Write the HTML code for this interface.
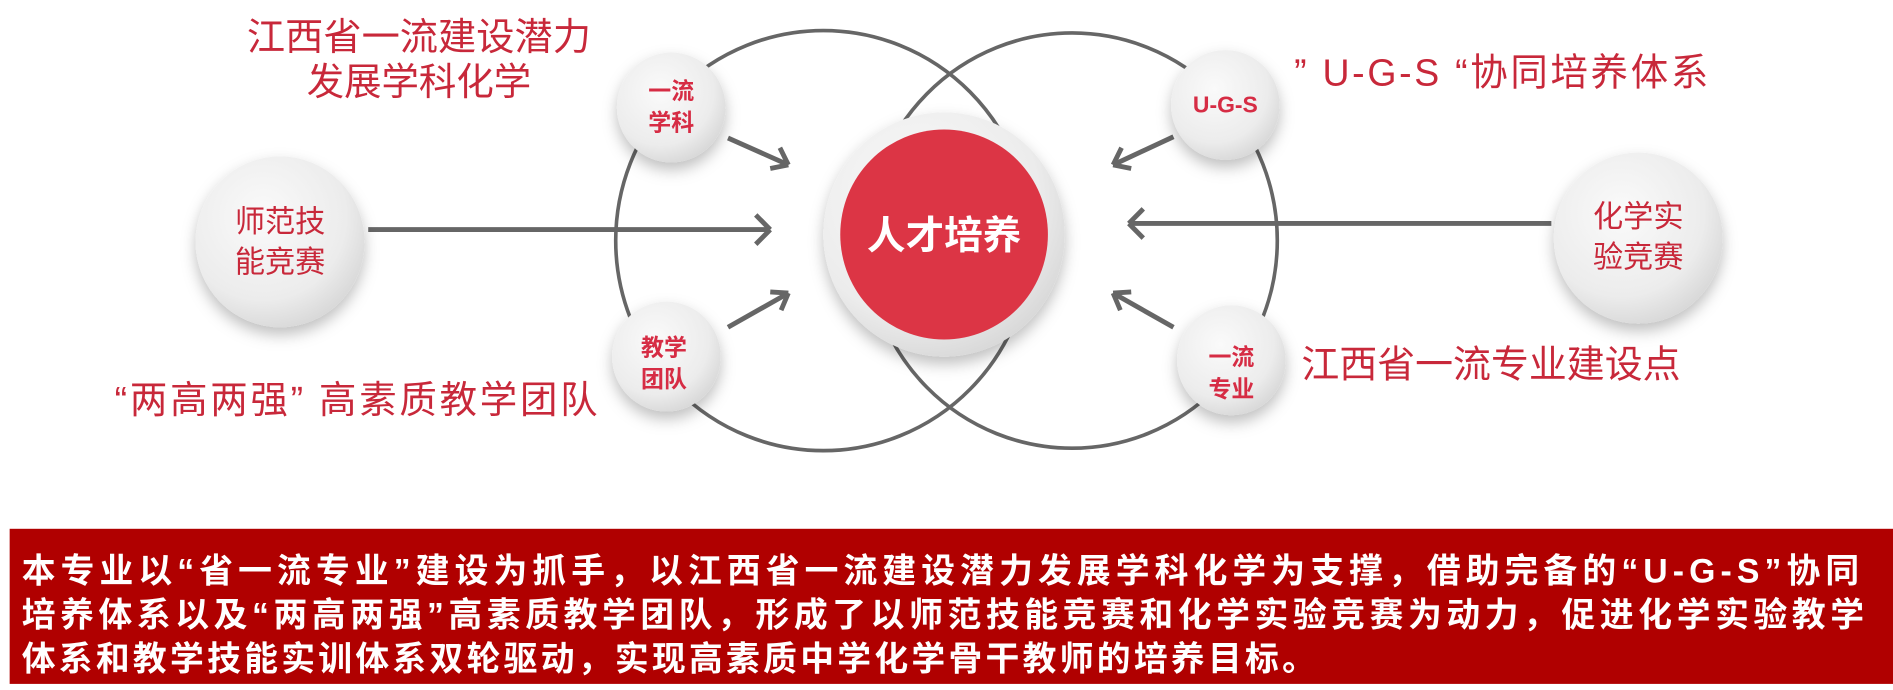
<!DOCTYPE html>
<html><head><meta charset="utf-8"><style>
html,body{margin:0;padding:0;background:#fff;width:1893px;height:690px;overflow:hidden}
svg{display:block}
text{font-family:"Liberation Sans","Noto Sans CJK SC",sans-serif}
</style></head><body>
<svg width="1893" height="690" viewBox="0 0 1568 565" preserveAspectRatio="none">
<defs>
<radialGradient id="g" cx="40%" cy="35%" r="70%"><stop offset="0" stop-color="#fafafa"/><stop offset="0.7" stop-color="#ececec"/><stop offset="1" stop-color="#d6d6d6"/></radialGradient>
<filter id="s" x="-30%" y="-30%" width="160%" height="160%"><feDropShadow dx="0" dy="6" stdDeviation="6" flood-color="#000" flood-opacity="0.25"/></filter>
</defs>
<g fill="none" stroke="#666" stroke-width="3">
<circle cx="682" cy="197" r="172"/>
<circle cx="888" cy="197" r="170"/>
</g>
<g stroke="#666" stroke-width="4" fill="none">
<path d="M305 188 L638 188"/><path d="M638 188 l-12 -12 M638 188 l-12 12"/>
<path d="M1285 183 L935 183"/><path d="M935 183 l12 -12 M935 183 l12 12"/>
<path d="M603 113 L653 135"/><path d="M653 135 l-7 -14 M653 135 l-15 3"/>
<path d="M603 268 L653 240"/><path d="M653 240 l-15 -1 M653 240 l-6 14"/>
<path d="M972 112 L922 135"/><path d="M922 135 l7 -14 M922 135 l15 3"/>
<path d="M972 268 L922 240"/><path d="M922 240 l15 -1 M922 240 l6 14"/>
</g>
<circle cx="782" cy="192" r="100" fill="url(#g)" filter="url(#s)"/>
<circle cx="782" cy="192" r="86" fill="#dc3545"/>
<text x="782" y="204" text-anchor="middle" font-size="32" font-weight="bold" fill="#fff">人才培养</text>
<g filter="url(#s)" fill="url(#g)">
<circle cx="232" cy="198" r="70"/><circle cx="1357" cy="195" r="70"/>
<circle cx="556" cy="88" r="45"/><circle cx="552" cy="292" r="45"/>
<circle cx="1015" cy="86" r="45"/><circle cx="1020" cy="295" r="45"/>
</g>
<g fill="#c8283a" font-size="25" text-anchor="middle">
<text x="232" y="190">师范技</text><text x="232" y="223">能竞赛</text>
<text x="1357" y="186">化学实</text><text x="1357" y="219">验竞赛</text>
</g>
<g fill="#d62c44" font-size="19" font-weight="bold" text-anchor="middle">
<text x="556" y="81">一流</text><text x="556" y="107">学科</text>
<text x="550" y="291">教学</text><text x="550" y="317">团队</text>
<text x="1015" y="92">U-G-S</text>
<text x="1020" y="299">一流</text><text x="1020" y="325">专业</text>
</g>
<g fill="#c8283a" font-size="31">
<text x="347" y="41" text-anchor="middle" textLength="285" lengthAdjust="spacingAndGlyphs">江西省一流建设潜力</text>
<text x="347" y="78" text-anchor="middle">发展学科化学</text>
<text x="1072" y="70" textLength="343" lengthAdjust="spacing">” U-G-S “协同培养体系</text>
<text x="1078" y="309" textLength="314" lengthAdjust="spacingAndGlyphs">江西省一流专业建设点</text>
<text x="95" y="338" textLength="400" lengthAdjust="spacing">“两高两强” 高素质教学团队</text>
</g>
<rect x="8" y="433" width="1560" height="127" fill="#b00000"/>
<g fill="#fff" font-size="28" font-weight="bold">
<text x="18" y="477" textLength="1522" lengthAdjust="spacing">本专业以“省一流专业”建设为抓手，以江西省一流建设潜力发展学科化学为支撑，借助完备的“U-G-S”协同</text>
<text x="18" y="513" textLength="1526" lengthAdjust="spacing">培养体系以及“两高两强”高素质教学团队，形成了以师范技能竞赛和化学实验竞赛为动力，促进化学实验教学</text>
<text x="18" y="549" textLength="1072" lengthAdjust="spacing">体系和教学技能实训体系双轮驱动，实现高素质中学化学骨干教师的培养目标。</text>
</g>
</svg>
</body></html>
